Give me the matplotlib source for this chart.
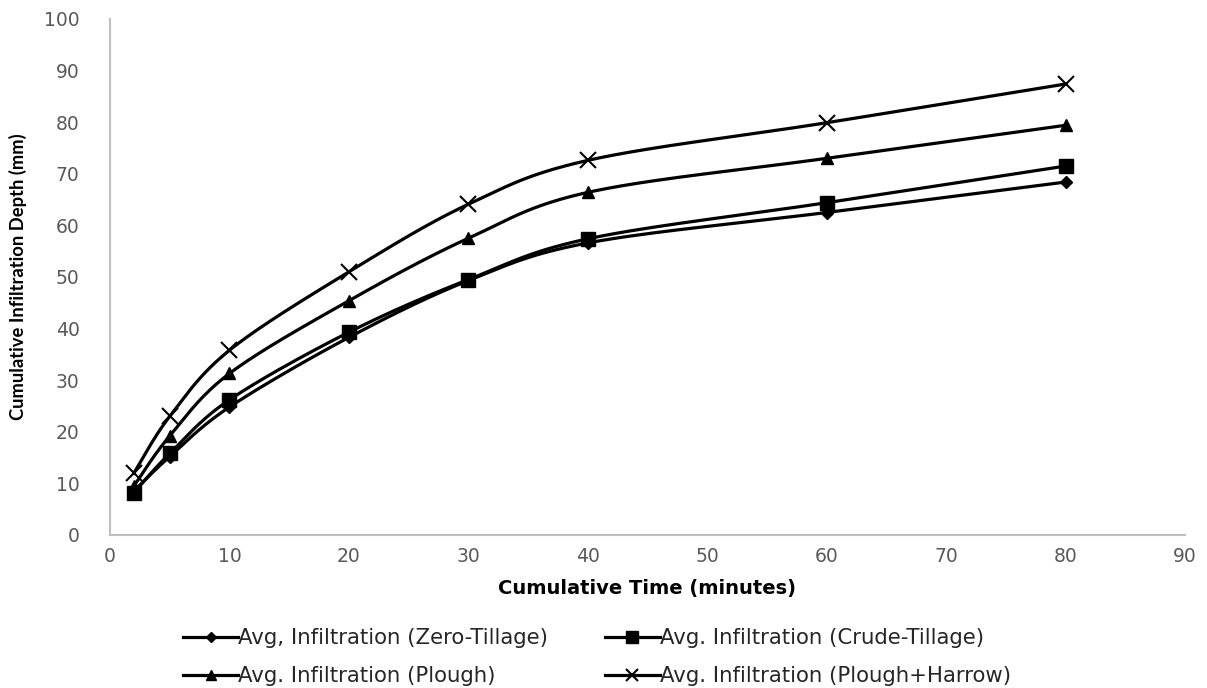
import numpy as np
import matplotlib
matplotlib.use("Agg")
import matplotlib.pyplot as plt
from matplotlib.lines import Line2D

time = [2, 5, 10, 20, 30, 40, 60, 80]
zero_tillage = [8.5, 15.2, 24.8, 38.3, 49.3, 56.6, 62.5, 68.4]
crude_tillage = [8.2, 15.8, 26.2, 39.3, 49.5, 57.4, 64.4, 71.5]
plough = [9.5, 19.2, 31.3, 45.4, 57.5, 66.4, 73.0, 79.4]
plough_harrow = [12.0, 23.0, 35.8, 51.0, 64.1, 72.6, 79.9, 87.4]

labels = ["Avg, Infiltration (Zero-Tillage)", "Avg. Infiltration (Crude-Tillage)",
          "Avg. Infiltration (Plough)", "Avg. Infiltration (Plough+Harrow)"]
markers = ["D", "s", "^", "x"]
msizes = [6, 10, 9, 11]

plt.rcParams['font.family'] = ['DejaVu Sans']


def smooth(x, y, n=30):
    # Catmull-Rom style cubic Bezier smoothing (like Excel smoothed lines)
    x = np.asarray(x, float); y = np.asarray(y, float)
    xs, ys = [], []
    m = len(x)
    for i in range(m - 1):
        p0 = np.array([x[max(i - 1, 0)], y[max(i - 1, 0)]])
        p1 = np.array([x[i], y[i]])
        p2 = np.array([x[i + 1], y[i + 1]])
        p3 = np.array([x[min(i + 2, m - 1)], y[min(i + 2, m - 1)]])
        c1 = p1 + (p2 - p0) / 6.0
        c2 = p2 - (p3 - p1) / 6.0
        t = np.linspace(0, 1, n)[:, None]
        pts = ((1 - t) ** 3) * p1 + 3 * ((1 - t) ** 2) * t * c1 + 3 * (1 - t) * t ** 2 * c2 + t ** 3 * p2
        xs.extend(pts[:, 0]); ys.extend(pts[:, 1])
    return np.array(xs), np.array(ys)


fig = plt.figure(figsize=(12.07, 6.88), dpi=100)
ax = fig.add_axes([110 / 1207, (688 - 535) / 688, (1185 - 110) / 1207, (535 - 19) / 688])

series = [zero_tillage, crude_tillage, plough, plough_harrow]
handles = []
for vals, mk, ms, lab in zip(series, markers, msizes, labels):
    sx, sy = smooth(time, vals)
    ax.plot(sx, sy, color="black", lw=2.3, zorder=2)
    mew = 1.5 if mk == "x" else 1
    ax.plot(time, vals, linestyle="none", marker=mk, markersize=ms, color="black",
            markeredgewidth=mew, zorder=3)
    handles.append(Line2D([0], [0], color="black", lw=2.3, marker=mk,
                          markersize=ms * 0.8, markeredgewidth=mew, label=lab))

ax.set_xlim(0, 90)
ax.set_ylim(0, 100)
ax.set_xticks(range(0, 91, 10))
ax.set_yticks(range(0, 101, 10))
ax.tick_params(axis="both", length=0, labelsize=13.5, colors="#595959")
ax.tick_params(axis="y", pad=22)
ax.tick_params(axis="x", pad=9)
for s in ["top", "right"]:
    ax.spines[s].set_visible(False)
for s in ["left", "bottom"]:
    ax.spines[s].set_color("#bfbfbf")
    ax.spines[s].set_linewidth(1.5)

ax.set_xlabel("Cumulative Time (minutes)", fontsize=14, fontweight="bold", labelpad=9)
ax.set_ylabel("Cumulative Infiltration Depth (mm)", fontsize=13.2, fontweight="bold",
              family=["Lato", "DejaVu Sans"], labelpad=12)

order = [0, 2, 1, 3]
leg = fig.legend(handles=[handles[i] for i in order], loc="center left",
                 bbox_to_anchor=(183 / 1207, 0.045), borderaxespad=0, borderpad=0,
                 ncol=2, frameon=False, fontsize=15.3, handlelength=2.6,
                 handletextpad=0.0, columnspacing=2.65, labelspacing=0.85)
for t in leg.get_texts():
    t.set_color("#262626")

fig.savefig("out.png", dpi=100)
